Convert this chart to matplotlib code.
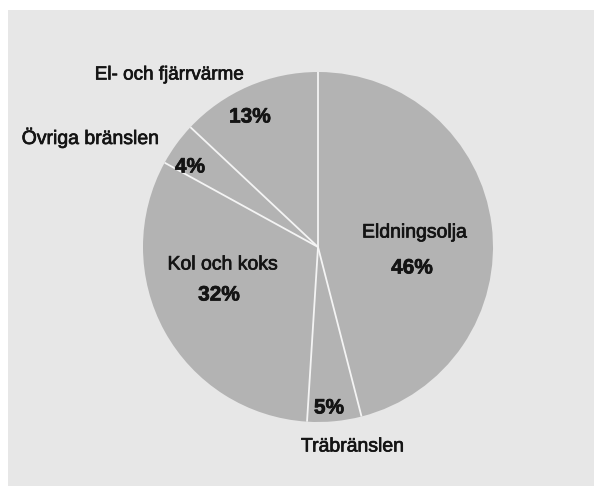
import numpy as np
import matplotlib
matplotlib.use("Agg")
import matplotlib.pyplot as plt
import matplotlib.patheffects as pe

# Energy use by fuel type (percent)
categories = ["Eldningsolja", "Träbränslen", "Kol och koks", "Övriga bränslen", "El- och fjärrvärme"]
shares = [46, 5, 32, 4, 13]

W, H = 594, 486
fig = plt.figure(figsize=(W / 100, H / 100), dpi=100)
fig.patch.set_facecolor("white")

# light paper panel
bg = fig.add_axes([8 / W, 0, 1 - 8 / W, 1 - 10 / H], zorder=0)
bg.set_facecolor("#e7e7e7")
bg.set_xticks([])
bg.set_yticks([])
for s in bg.spines.values():
    s.set_visible(False)

cx, cy, r = 318, 247, 175
ax = fig.add_axes([(cx - r) / W, (H - cy - r) / H, 2 * r / W, 2 * r / H], zorder=1)
ax.set_facecolor("none")
ax.axis("off")

wedges, _ = ax.pie(shares, startangle=90, counterclock=False, radius=1.0,
                   colors=["#b3b3b3"] * len(shares),
                   wedgeprops=dict(edgecolor="none", linewidth=0))
ax.set_xlim(-1, 1)
ax.set_ylim(-1, 1)
ax.set_aspect("equal")

# white separators along each wedge boundary
for w in wedges:
    t = np.deg2rad(w.theta1)
    ax.plot([0, np.cos(t)], [0, np.sin(t)], color="#f4f4f4", lw=1.3,
            solid_capstyle="butt", zorder=3)

font = "Liberation Sans"
ink = "#141414"
thick = [pe.withStroke(linewidth=0.5, foreground=ink)]


def label(x, y, s, bold=False, size=14):
    fig.text(x / W, 1 - y / H, s, ha="center", va="center", fontsize=size,
             family=font, fontweight="bold" if bold else "normal",
             color=ink, path_effects=thick, zorder=5)


pct = {c: f"{v}%" for c, v in zip(categories, shares)}

label(169, 75, categories[4], size=13.6)
label(250, 117, pct[categories[4]], bold=True, size=15)
label(91, 138, categories[3])
label(190, 167, pct[categories[3]], bold=True, size=15)
label(223, 265, categories[2])
label(219, 295, pct[categories[2]], bold=True, size=15)
label(415, 233, categories[0])
label(412, 268, pct[categories[0]], bold=True, size=15)
label(329, 408, pct[categories[1]], bold=True, size=15)
label(353, 447, categories[1])

fig.savefig("out.png", dpi=100, facecolor=fig.get_facecolor())
